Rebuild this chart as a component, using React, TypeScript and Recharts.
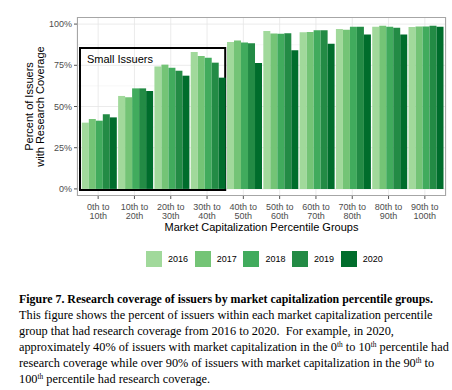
import React from 'react';
import {
    BarChart, Bar, XAxis, YAxis, CartesianGrid, Legend, ReferenceArea, Label
} from 'recharts';

const GROUPS = [
    '0th to 10th', '10th to 20th', '20th to 30th', '30th to 40th', '40th to 50th',
    '50th to 60th', '60th to 70th', '70th to 80th', '80th to 90th', '90th to 100th',
];

const YEARS = ['2016', '2017', '2018', '2019', '2020'];

const Y2016 = [40.2, 56.4, 74.3, 83.0, 89.1, 95.8, 95.0, 97.0, 98.4, 98.2];
const Y2017 = [42.4, 55.6, 75.4, 80.6, 90.1, 94.3, 95.2, 96.6, 99.0, 98.6];
const Y2018 = [41.4, 61.0, 73.5, 79.6, 88.9, 94.1, 96.2, 98.4, 98.4, 98.6];
const Y2019 = [45.3, 61.0, 71.7, 76.6, 88.3, 94.5, 96.2, 98.4, 97.8, 99.0];
const Y2020 = [43.4, 59.4, 68.7, 67.5, 76.4, 84.2, 88.1, 93.7, 93.7, 98.4];

const Y_TICKS = [0, 25, 50, 75, 100];
const MINOR_TICKS = [12.5, 37.5, 62.5, 87.5];

const COLORS: Record<string, string> = {
    '2016': '#a1d99b',
    '2017': '#74c476',
    '2018': '#41ab5d',
    '2019': '#238b45',
    '2020': '#006d2c',
};

const data = GROUPS.map((g, i) => ({
    group: g,
    '2016': Y2016[i],
    '2017': Y2017[i],
    '2018': Y2018[i],
    '2019': Y2019[i],
    '2020': Y2020[i],
}));

const SANS = '"Liberation Sans", Arial, sans-serif';
const SERIF = '"Liberation Serif", "Times New Roman", serif';

function GroupTick(props: any) {
    const { x, y, payload } = props;
    const parts = String(payload.value).split(' to ');
    return (
        <g transform={`translate(${x},${y})`}>
            <text textAnchor="middle" fontSize={9} fill="#4d4d4d" fontFamily={SANS}>
                <tspan x={0} dy={8.5}>{parts[0] + ' to'}</tspan>
                <tspan x={0} dy={9.3}>{parts[1]}</tspan>
            </text>
        </g>
    );
}

function YTitle(props: any) {
    const { viewBox } = props;
    const cy = viewBox.y + viewBox.height / 2;
    return (
        <text transform={`translate(34,${cy}) rotate(-90)`} textAnchor="middle" fontSize={11} fill="#000" fontFamily={SANS}>
            <tspan x={0} dy={-1.5}>Percent of Issuers</tspan>
            <tspan x={0} dy={11.5}>with Research Coverage</tspan>
        </text>
    );
}

function YearLegend() {
    return (
        <div style={{ display: 'flex', paddingLeft: 146, fontFamily: SANS, fontSize: 9, color: '#000' }}>
            {YEARS.map((y) => (
                <div key={y} style={{ display: 'flex', alignItems: 'center', width: 48.7 }}>
                    <div style={{ width: 16, height: 16, background: COLORS[y], marginRight: 6 }} />
                    <span>{y}</span>
                </div>
            ))}
        </div>
    );
}

const supStyle: React.CSSProperties = { fontSize: '0.6em', lineHeight: 0, verticalAlign: '0.55em' };

const CAPTION: React.ReactNode[] = [
    <>This figure shows the percent of issuers within each market capitalization percentile</>,
    <>group that had research coverage from 2016 to 2020.&nbsp; For example, in 2020,</>,
    <>approximately 40% of issuers with market capitalization in the 0<sup style={supStyle}>th</sup> to 10<sup style={supStyle}>th</sup> percentile had</>,
    <>research coverage while over 90% of issuers with market capitalization in the 90<sup style={supStyle}>th</sup> to</>,
    <>100<sup style={supStyle}>th</sup> percentile had research coverage.</>,
];

export default function App() {
    return (
        <div style={{ position: 'absolute', left: 0, top: 0, width: 452, height: 390, background: '#fff', overflow: 'hidden' }}>
            <BarChart
                width={452}
                height={270}
                data={data}
                margin={{ top: 17, right: 6, left: 0, bottom: 0 }}
                barCategoryGap="5%"
                barGap={0}
            >
                <CartesianGrid horizontalValues={MINOR_TICKS} vertical={false} stroke="#f2f2f2" strokeWidth={0.6} />
                <CartesianGrid horizontalValues={Y_TICKS} stroke="#e6e6e6" strokeWidth={0.8} />
                <XAxis
                    dataKey="group"
                    interval={0}
                    height={74}
                    padding={{ left: 3, right: 3 }}
                    axisLine={false}
                    tickLine={{ stroke: '#555' }}
                    tickSize={3}
                    tick={<GroupTick />}
                >
                    <Label
                        value="Market Capitalization Percentile Groups"
                        position="insideTop"
                        offset={27}
                        style={{ fontSize: 11, fill: '#000', fontFamily: SANS }}
                    />
                </XAxis>
                <YAxis
                    domain={[-4.3, 104.3]}
                    ticks={Y_TICKS}
                    width={77}
                    axisLine={false}
                    tickLine={{ stroke: '#555' }}
                    tickSize={3}
                    tickFormatter={(v) => `${v}%`}
                    tick={{ fontSize: 9, fill: '#4d4d4d', fontFamily: SANS }}
                    label={<YTitle />}
                />
                {YEARS.map((y) => (
                    <Bar key={y} dataKey={y} fill={COLORS[y]} isAnimationActive={false} />
                ))}
                <ReferenceArea
                    x1={GROUPS[0]}
                    x2={GROUPS[3]}
                    y1={-0.6}
                    y2={85.5}
                    fill="none"
                    stroke="#000"
                    strokeWidth={2}
                    ifOverflow="visible"
                >
                    <Label
                        value="Small Issuers"
                        position="insideTopLeft"
                        offset={7}
                        style={{ fontSize: 11, fill: '#000', fontFamily: SANS }}
                    />
                </ReferenceArea>
                <Legend
                    verticalAlign="middle"
                    content={<YearLegend />}
                    wrapperStyle={{ top: 251, left: 0, width: 452 }}
                />
            </BarChart>
            <div style={{ position: 'absolute', left: 77, top: 17, width: 369, height: 179, border: '1px solid #a6a6a6', boxSizing: 'border-box', pointerEvents: 'none' }} />
            <div style={{ position: 'absolute', left: 19, top: 292, fontFamily: SERIF, fontSize: 12.3, color: '#000', lineHeight: '16px', whiteSpace: 'nowrap' }}>
                <div style={{ fontWeight: 'bold', fontSize: 11.9, lineHeight: '15px' }}>Figure 7. Research coverage of issuers by market capitalization percentile groups.</div>
                {CAPTION.map((line, i) => (
                    <div key={i}>{line}</div>
                ))}
            </div>
        </div>
    );
}
